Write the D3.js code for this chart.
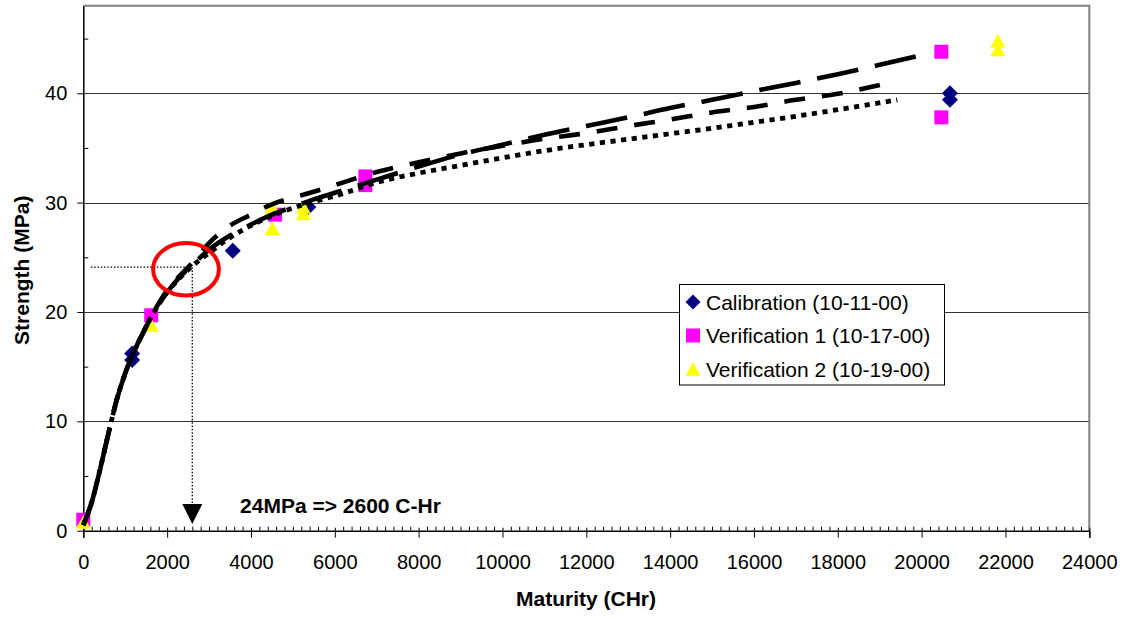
<!DOCTYPE html>
<html>
<head>
<meta charset="utf-8">
<script src="https://cdn.jsdelivr.net/npm/d3@7"></script>
<style>
  html, body { margin: 0; padding: 0; background: #fff; }
  svg { display: block; }
  text { font-family: "Liberation Sans", Arial, sans-serif; }
</style>
</head>
<body>
<svg id="chart" width="1126" height="618"></svg>
<script>
// ---------------- data ----------------
const xTickValues = [0, 2000, 4000, 6000, 8000, 10000, 12000, 14000, 16000, 18000, 20000, 22000, 24000];
const yTickValues = [0, 10, 20, 30, 40];
const yMinorValues = [5, 15, 25, 35, 45];

const seriesNames = ["Calibration (10-11-00)", "Verification 1 (10-17-00)", "Verification 2 (10-19-00)"];

const calX = [1165, 1165, 3565, 5370, 20675, 20675];
const calY = [16.2, 15.6, 25.6, 29.6, 40.0, 39.4];
const ver1X = [0, 1620, 4575, 6730, 6730, 20470, 20470];
const ver1Y = [1.0, 19.7, 28.9, 32.4, 31.6, 43.8, 37.8];
const ver2X = [0, 1620, 4510, 4510, 5250, 5250, 21820, 21820];
const ver2Y = [0.8, 18.8, 29.6, 27.65, 29.6, 29.0, 44.8, 44.0];

// fitted strength-maturity curves
const fitLongX = [0,200,400,600,800,1000,1200,1400,1600,1800,2000,2300,2600,3000,3500,4000,4500,5000,5500,6000,7000,8000,9000,10000,11000,12000,13000,14000,15000,16000,17000,18000,19000,20250];
const fitLongY = [0.5,2.6,5.6,8.9,12.0,14.4,16.3,17.9,19.4,20.7,21.8,23.2,24.3,25.7,27.0,28.0,28.9,29.6,30.3,30.9,32.1,33.3,34.4,35.3,36.2,37.0,37.8,38.65,39.4,40.2,40.95,41.75,42.6,43.7];
const fitMedX = [0,200,400,600,800,1000,1200,1400,1600,1800,2000,2300,2600,3000,3500,4000,4500,5000,5500,6000,7000,8000,9000,10000,11000,12000,13000,14000,15000,16000,17000,18000,19060];
const fitMedY = [0.5,2.6,5.6,8.9,12.0,14.4,16.3,17.9,19.4,20.8,22.0,23.3,24.5,26.3,27.9,28.9,29.85,30.45,31.0,31.6,32.8,33.7,34.5,35.2,35.85,36.35,37.0,37.6,38.25,38.75,39.4,39.95,40.8];
const fitDotX = [0,200,400,600,800,1000,1200,1400,1600,1800,2000,2300,2600,3000,3500,4000,4500,5000,5500,6000,7000,8000,9000,10000,11000,12000,13000,14000,15000,16000,17000,18000,19420];
const fitDotY = [0.5,2.6,5.6,8.9,12.0,14.4,16.3,17.9,19.4,20.7,21.8,23.1,24.2,25.4,26.8,27.9,28.8,29.5,30.1,30.6,31.85,32.7,33.4,34.1,34.75,35.3,35.8,36.3,36.8,37.35,37.9,38.5,39.4];

// annotation
const targetStrength = 24.1;
const targetMaturity = 2600;
const hLineStart = 180;
const arrowTopValue = 2.45;
const circleCenter = [2450, 23.9];
const circleRadius = [785, 2.4];
const annotationText = "24MPa => 2600 C-Hr";
const annotationPos = [3740, 1.6];

// ---------------- chart ----------------
const svg = d3.select("#chart");
const x = d3.scaleLinear().domain([0, 24000]).range([83.3, 1089.3]);
const y = d3.scaleLinear().domain([0, 48]).range([530.7, 5.8]);
const x0 = x.range()[0], x1 = x.range()[1], y0 = y.range()[0], y1 = y.range()[1];

// gridlines
svg.append("g").selectAll("line").data(yTickValues.filter(d => d > 0)).join("line")
  .attr("x1", x0).attr("x2", x1)
  .attr("y1", d => Math.round(y(d)) + 0.5).attr("y2", d => Math.round(y(d)) + 0.5)
  .attr("stroke", "#333").attr("stroke-width", 1);

// frame (top/right gray)
svg.append("path")
  .attr("d", `M${x0},${y1}H${x1}V${y0}`)
  .attr("fill", "none").attr("stroke", "#808080").attr("stroke-width", 2);

const fontTick = "20px";

// x axis
const xAxisMinor = d3.axisBottom(x)
  .tickValues(d3.range(0, 24001, 200).filter(v => v % 2000 !== 0))
  .tickSize(-4).tickFormat("");
svg.append("g").attr("transform", `translate(0,${y0})`).call(xAxisMinor)
  .call(g => g.select(".domain").remove())
  .call(g => g.selectAll(".tick line").attr("stroke", "#000").attr("stroke-width", 1));

const xAxis = d3.axisBottom(x).tickValues(xTickValues).tickSizeOuter(0).tickSize(7).tickFormat(d3.format("d"));
svg.append("g").attr("transform", `translate(0,${y0})`).call(xAxis)
  .call(g => g.select(".domain").attr("stroke", "#000").attr("stroke-width", 1.5))
  .call(g => g.selectAll(".tick line").attr("y1", -3).attr("y2", 7).attr("stroke", "#000"))
  .call(g => g.selectAll(".tick text").attr("y", 24).attr("font-size", fontTick)
    .attr("font-family", "'Liberation Sans', Arial, sans-serif").attr("fill", "#000"));

// y axis
const yAxisMinor = d3.axisLeft(y).tickValues(yMinorValues).tickSize(-5).tickFormat("");
svg.append("g").attr("transform", `translate(${x0},0)`).call(yAxisMinor)
  .call(g => g.select(".domain").remove())
  .call(g => g.selectAll(".tick line").attr("stroke", "#000"));

const yAxis = d3.axisLeft(y).tickValues(yTickValues).tickSize(6).tickSizeOuter(0).tickPadding(10);
svg.append("g").attr("transform", `translate(${x0},0)`).call(yAxis)
  .call(g => g.select(".domain").attr("stroke", "#000").attr("stroke-width", 1.5))
  .call(g => g.selectAll(".tick line").attr("stroke", "#000"))
  .call(g => g.selectAll(".tick text").attr("font-size", fontTick)
    .attr("font-family", "'Liberation Sans', Arial, sans-serif").attr("fill", "#000"));

// axis titles
svg.append("text").attr("x", 586).attr("y", 606).attr("text-anchor", "middle")
  .attr("font-size", "21px").attr("font-weight", "bold").text("Maturity (CHr)");
svg.append("text").attr("transform", `translate(29,${(y0 + y1) / 2 + 2}) rotate(-90)`)
  .attr("text-anchor", "middle").attr("font-size", "21px").attr("font-weight", "bold")
  .text("Strength (MPa)");

// marker shapes
const diamondPath = s => `M0,${-s}L${s},0L0,${s}L${-s},0Z`;
const squarePath = s => `M${-s / 2},${-s / 2}h${s}v${s}h${-s}Z`;
const trianglePath = (w, h) => `M0,${-h / 2}L${w / 2},${h / 2}L${-w / 2},${h / 2}Z`;

const markers = [
  { xs: calX, ys: calY, d: diamondPath(8), fill: "#000080" },
  { xs: ver1X, ys: ver1Y, d: squarePath(14), fill: "#FF00FF" },
  { xs: ver2X, ys: ver2Y, d: trianglePath(15, 13.5), fill: "#FFFF00" }
];
markers.forEach(m => {
  svg.append("g").selectAll("path").data(m.xs.map((v, i) => [v, m.ys[i]])).join("path")
    .attr("transform", d => `translate(${x(d[0])},${y(d[1])})`)
    .attr("d", m.d).attr("fill", m.fill);
});

// fitted curves
const line = d3.line().x(d => x(d[0])).y(d => y(d[1])).curve(d3.curveMonotoneX);
const fits = [
  { xs: fitDotX, ys: fitDotY, dash: "5.2,5.5", w: 4.8 },
  { xs: fitMedX, ys: fitMedY, dash: "21,17", w: 4.6 },
  { xs: fitLongX, ys: fitLongY, dash: "42,17", w: 4.6 }
];
fits.forEach(f => {
  svg.append("path").datum(f.xs.map((v, i) => [v, f.ys[i]]))
    .attr("d", line).attr("fill", "none").attr("stroke", "#000")
    .attr("stroke-width", f.w).attr("stroke-dasharray", f.dash).attr("stroke-linecap", "butt");
});

// legend
const lg = svg.append("g");
lg.append("rect").attr("x", 679.5).attr("y", 284.5).attr("width", 265).attr("height", 100.5)
  .attr("fill", "#fff").attr("stroke", "#000").attr("stroke-width", 1);
const legendShapes = [diamondPath(7.5), squarePath(14), trianglePath(15, 13.5)];
const legendFills = ["#000080", "#FF00FF", "#FFFF00"];
seriesNames.forEach((name, i) => {
  const cy = 302 + i * 33.5;
  lg.append("path").attr("transform", `translate(693,${cy})`).attr("d", legendShapes[i]).attr("fill", legendFills[i]);
  lg.append("text").attr("x", 706).attr("y", cy).attr("dy", "0.36em")
    .attr("font-size", "21px").attr("fill", "#000").text(name);
});

// annotation
const ann = svg.append("g");
ann.append("line")
  .attr("x1", x(hLineStart)).attr("x2", x(targetMaturity))
  .attr("y1", y(targetStrength)).attr("y2", y(targetStrength))
  .attr("stroke", "#000").attr("stroke-width", 1.3).attr("stroke-dasharray", "1.5,1.8");
ann.append("line")
  .attr("x1", x(targetMaturity)).attr("x2", x(targetMaturity))
  .attr("y1", y(targetStrength)).attr("y2", y(arrowTopValue))
  .attr("stroke", "#000").attr("stroke-width", 1.3).attr("stroke-dasharray", "1.5,1.8");
ann.append("path")
  .attr("transform", `translate(${x(targetMaturity)},${y(arrowTopValue)})`)
  .attr("d", "M-10,0L10,0L0,20Z").attr("fill", "#000");
ann.append("ellipse")
  .attr("cx", x(circleCenter[0])).attr("cy", y(circleCenter[1]))
  .attr("rx", x(circleCenter[0] + circleRadius[0]) - x(circleCenter[0]))
  .attr("ry", y(circleCenter[1] - circleRadius[1]) - y(circleCenter[1]))
  .attr("fill", "none").attr("stroke", "#FF0000").attr("stroke-width", 4);
ann.append("text").attr("x", x(annotationPos[0])).attr("y", y(annotationPos[1]))
  .attr("font-size", "21px").attr("font-weight", "bold").text(annotationText);
</script>
</body>
</html>
